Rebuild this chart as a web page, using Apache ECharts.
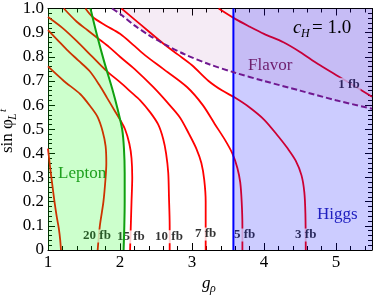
<!DOCTYPE html>
<html>
<head>
<meta charset="utf-8">
<script src="https://cdn.jsdelivr.net/npm/echarts@6/dist/echarts.min.js"></script>
<style>html,body{margin:0;padding:0;background:#fff}#c{width:374px;height:295px}</style>
</head>
<body>
<div id="c"></div>
<script>
// ---- data ----
const xRange = [1, 5.5];
const yRange = [0, 1];
const xTickInterval = 1;
const yTickInterval = 0.1;

// contour lines [g_rho, sin phi]
const c30fb = [[1.00,0.42],[1.03,0.34],[1.06,0.27],[1.09,0.20],[1.12,0.14],[1.15,0.09],[1.17,0.04],[1.18,0.00]];
const c20fb = [[1.00,0.76],[1.22,0.70],[1.45,0.645],[1.60,0.59],[1.69,0.55],[1.76,0.49],[1.80,0.43],[1.81,0.36],[1.80,0.30],[1.77,0.20],[1.72,0.10],[1.69,0.00]];
const c15fb = [[1.00,0.91],[1.13,0.87],[1.26,0.83],[1.42,0.785],[1.58,0.74],[1.72,0.68],[1.82,0.63],[1.92,0.58],[2.00,0.54],[2.07,0.50],[2.13,0.44],[2.16,0.38],[2.17,0.30],[2.16,0.20],[2.15,0.10],[2.14,0.00]];
const c10fb = [[1.00,0.965],[1.20,0.92],[1.40,0.865],[1.60,0.805],[1.80,0.745],[2.00,0.695],[2.15,0.655],[2.28,0.62],[2.42,0.57],[2.53,0.52],[2.60,0.46],[2.64,0.40],[2.67,0.32],[2.68,0.22],[2.69,0.10],[2.69,0.00]];
const c7fb = [[1.22,1.00],[1.40,0.945],[1.55,0.91],[1.70,0.875],[1.85,0.84],[2.00,0.80],[2.20,0.75],[2.46,0.675],[2.66,0.61],[2.83,0.55],[2.96,0.48],[3.06,0.42],[3.13,0.36],[3.17,0.29],[3.19,0.20],[3.19,0.10],[3.19,0.00]];
const c5fb = [[1.52,1.00],[1.62,0.965],[1.80,0.93],[2.00,0.895],[2.20,0.845],[2.35,0.806],[2.60,0.75],[2.93,0.675],[3.15,0.60],[3.32,0.52],[3.46,0.455],[3.56,0.40],[3.63,0.34],[3.67,0.28],[3.69,0.20],[3.70,0.10],[3.70,0.00]];
const c3fb = [[2.02,1.00],[2.20,0.955],[2.40,0.905],[2.60,0.855],[2.80,0.81],[3.00,0.765],[3.23,0.70],[3.42,0.66],[3.60,0.63],[3.80,0.59],[4.00,0.54],[4.20,0.47],[4.33,0.42],[4.44,0.37],[4.52,0.31],[4.56,0.24],[4.575,0.15],[4.58,0.00]];
const c1fb = [[3.37,1.00],[3.60,0.957],[3.80,0.925],[4.00,0.895],[4.27,0.86],[4.50,0.82],[4.75,0.77],[5.00,0.725],[5.25,0.68],[5.50,0.635]];

// exclusion boundaries
const leptonBoundary = [[1.59,1.00],[1.68,0.89],[1.78,0.78],[1.89,0.67],[1.97,0.58],[2.03,0.50],[2.055,0.42],[2.065,0.32],[2.065,0.20],[2.06,0.10],[2.05,0.00]];
const higgsX = 3.575;
const flavorBoundary = [[1.89,1.00],[2.00,0.978],[2.20,0.93],[2.40,0.89],[2.63,0.85],[2.90,0.81],[3.23,0.77],[3.60,0.734],[4.00,0.70],[4.50,0.66],[5.00,0.62],[5.50,0.585]];

// contour labels: [g_rho, sin phi, text]
const contourLabels = [[1.68,0.058,'20 fb'],[2.15,0.054,'15 fb'],[2.68,0.055,'10 fb'],[3.19,0.066,'7 fb'],[3.73,0.062,'5 fb'],[4.58,0.062,'3 fb'],[5.18,0.686,'1 fb']];

const contours = [c30fb, c20fb, c15fb, c10fb, c7fb, c5fb, c3fb, c1fb];

// ---- chart ----
const serif = 'Liberation Serif';
const chart = echarts.init(document.getElementById('c'), null, {renderer:'canvas'});

function polySeries(pointsFn, color, z) {
  return {
    type: 'custom', z: z, silent: true, clip: true,
    data: [0],
    renderItem: function (params, api) {
      const pts = pointsFn().map(p => api.coord(p));
      return { type: 'polygon', shape: { points: pts }, style: { fill: color, stroke: 'none' } };
    }
  };
}

const series = [];
contours.forEach(c => series.push({
  type: 'line', data: c, smooth: 0.3, symbol: 'none', z: 1, silent: true,
  lineStyle: { color: '#ff0000', width: 1.8 }
}));
series.push({
  type: 'scatter', z: 2, symbolSize: 0, silent: true,
  data: contourLabels,
  label: {
    show: true, position: 'inside', formatter: p => p.data[2],
    fontFamily: serif, fontWeight: 'bold', fontSize: 13, color: '#000',
    backgroundColor: '#ffffff', padding: [0, 1]
  }
});
series.push(polySeries(() => [[xRange[0], yRange[1]]].concat(leptonBoundary).concat([[xRange[0], yRange[0]]]), 'rgba(0,255,0,0.2)', 3));
series.push(polySeries(() => [[higgsX, yRange[0]], [higgsX, yRange[1]], [xRange[1], yRange[1]], [xRange[1], yRange[0]]], 'rgba(0,0,255,0.2)', 3));
series.push(polySeries(() => flavorBoundary.concat([[xRange[1], yRange[1]]]), 'rgba(128,0,128,0.08)', 3));
series.push({
  type: 'line', data: leptonBoundary, smooth: 0.3, symbol: 'none', z: 4, silent: true,
  lineStyle: { color: '#10a010', width: 2 }
});
series.push({
  type: 'line', data: [[higgsX, yRange[0]], [higgsX, yRange[1]]], symbol: 'none', z: 4, silent: true,
  lineStyle: { color: '#0000ff', width: 2 }
});
series.push({
  type: 'line', data: flavorBoundary, smooth: 0.3, symbol: 'none', z: 4, silent: true,
  lineStyle: { color: '#701890', width: 2, type: [6, 3] }
});

function axisCommon(showLabel, isX) {
  return {
    axisLine: { show: true, onZero: false, lineStyle: { color: '#000', width: 1 } },
    axisTick: { show: true, inside: true, length: 7, lineStyle: { color: '#000', width: 1 } },
    minorTick: { show: true, splitNumber: 5, length: 4, lineStyle: { color: '#000', width: 1 } },
    splitLine: { show: false },
    minorSplitLine: { show: false },
    axisLabel: {
      show: showLabel, fontFamily: serif, fontSize: 17, color: '#000', margin: 4,
      showMaxLabel: isX ? false : true,
      formatter: isX ? (v => (Math.abs(v - Math.round(v)) < 1e-6 ? String(Math.round(v)) : ''))
                     : (v => (Math.abs(v) < 1e-9 ? '0' : v.toFixed(1)))
    }
  };
}

function txt(x, y, text, size, color, italic, extra) {
  return Object.assign({ type: 'text', x: x, y: y, z: 10, silent: true,
    style: { text: text, fontFamily: serif, fontSize: size, fill: color, fontStyle: italic ? 'italic' : 'normal', verticalAlign: 'middle', align: 'left' } }, extra || {});
}

const option = {
  animation: false,
  backgroundColor: '#ffffff',
  grid: { left: 48, right: 2, top: 8, bottom: 45 },
  xAxis: [
    Object.assign({ type: 'value', min: xRange[0], max: xRange[1], interval: xTickInterval, position: 'bottom' }, axisCommon(true, true)),
    Object.assign({ type: 'value', min: xRange[0], max: xRange[1], interval: xTickInterval, position: 'top' }, axisCommon(false, true))
  ],
  yAxis: [
    Object.assign({ type: 'value', min: yRange[0], max: yRange[1], interval: yTickInterval, position: 'left' }, axisCommon(true, false)),
    Object.assign({ type: 'value', min: yRange[0], max: yRange[1], interval: yTickInterval, position: 'right' }, axisCommon(false, false))
  ],
  series: series,
  graphic: [
    txt(58, 174, 'Lepton', 17, '#1ea01e', false),
    txt(317, 215, 'Higgs', 17, '#2020c0', false),
    txt(248, 66, 'Flavor', 17, '#6e1e6e', false),
    txt(293, 28, 'c', 19, '#000', true),
    txt(301, 33.5, 'H', 12, '#000', true),
    txt(312, 28, '= 1.0', 19, '#000', false),
    txt(202, 284, 'g', 17, '#000', true),
    txt(210, 289, 'ρ', 12, '#000', true),
    {
      type: 'group', x: 0, y: 153, rotation: Math.PI / 2, z: 10, silent: true,
      children: [
        { type: 'text', x: 0, y: 8, style: { text: 'sin φ', fontFamily: serif, fontSize: 17, fill: '#000', verticalAlign: 'middle', align: 'left' } },
        { type: 'text', x: 33, y: 12.5, style: { text: 'L', fontFamily: serif, fontStyle: 'italic', fontSize: 12, fill: '#000', verticalAlign: 'middle', align: 'left' } },
        { type: 'text', x: 41, y: 3.5, style: { text: 't', fontFamily: serif, fontStyle: 'italic', fontSize: 11, fill: '#000', verticalAlign: 'middle', align: 'left' } }
      ]
    }
  ]
};
chart.setOption(option);
</script>
</body>
</html>
